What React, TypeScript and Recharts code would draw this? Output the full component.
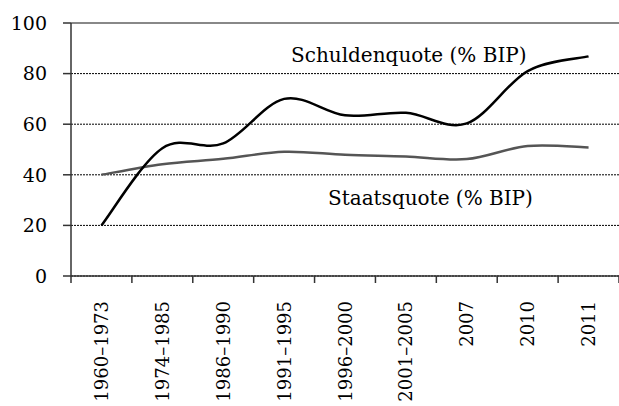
import React from 'react';
import { LineChart, Line, XAxis, YAxis, CartesianGrid, ReferenceLine } from 'recharts';

const categories = ['1960–1973', '1974–1985', '1986–1990', '1991–1995', '1996–2000', '2001–2005', '2007', '2010', '2011'];
const schuldenquote = [20, 50.5, 52.4, 70, 63.5, 64.5, 60.3, 81, 86.8];
const staatsquote = [40, 44.2, 46.3, 49.1, 47.9, 47.2, 46.2, 51.4, 50.8];
const yTicks = [0, 20, 40, 60, 80, 100];

const data = categories.map((c, i) => ({
  x: i + 0.5,
  name: c,
  schulden: schuldenquote[i],
  staats: staatsquote[i],
}));

const xTicks: number[] = [];
for (let i = 0; i <= categories.length; i++) {
  xTicks.push(i);
  if (i < categories.length) xTicks.push(i + 0.5);
}

// Excel-like smoothing (Catmull-Rom converted to Bezier)
function excelSmooth(context: any) {
  let pts: number[][] = [];
  return {
    areaStart() {},
    areaEnd() {},
    lineStart() {
      pts = [];
    },
    lineEnd() {
      if (!pts.length) return;
      context.moveTo(pts[0][0], pts[0][1]);
      for (let i = 0; i < pts.length - 1; i++) {
        const p0 = pts[i - 1] || pts[i];
        const p1 = pts[i];
        const p2 = pts[i + 1];
        const p3 = pts[i + 2] || p2;
        context.bezierCurveTo(
          p1[0] + (p2[0] - p0[0]) / 6,
          p1[1] + (p2[1] - p0[1]) / 6,
          p2[0] - (p3[0] - p1[0]) / 6,
          p2[1] - (p3[1] - p1[1]) / 6,
          p2[0],
          p2[1]
        );
      }
    },
    point(x: number, y: number) {
      pts.push([+x, +y]);
    },
  };
}

const FONT = '"DejaVu Serif", serif';

const XTick = (props: any) => {
  const { x, y, payload } = props;
  const v = payload.value as number;
  if (Number.isInteger(v)) {
    return <line x1={x} y1={y} x2={x} y2={y + 7} stroke="#333" strokeWidth={1.5} />;
  }
  const label = categories[Math.floor(v)];
  return (
    <text
      x={x}
      y={y + 25}
      transform={`rotate(-90 ${x} ${y + 25})`}
      textAnchor="end"
      dominantBaseline="central"
      fontFamily={FONT}
      fontSize={18}
      fill="#000"
    >
      {label}
    </text>
  );
};

export default function App() {
  return (
    <div style={{ position: 'absolute', left: 0, top: 0, width: 619, height: 406, background: '#fff', overflow: 'hidden' }}>
      <LineChart width={619} height={406} data={data} margin={{ top: 23, right: 0, left: 0, bottom: 0 }}>
        <CartesianGrid vertical={false} stroke="#000" strokeDasharray="2 1" strokeWidth={1} />
        <ReferenceLine y={100} stroke="#888" strokeWidth={2} />
        <XAxis
          dataKey="x"
          type="number"
          domain={[0, categories.length]}
          ticks={xTicks}
          interval={0}
          height={130}
          tickLine={false}
          tickSize={0}
          tickMargin={0}
          stroke="#333"
          strokeWidth={1.5}
          tick={<XTick />}
        />
        <YAxis
          type="number"
          domain={[0, 100]}
          ticks={yTicks}
          width={71}
          tickSize={8}
          tickMargin={16}
          stroke="#333"
          strokeWidth={1.5}
          tick={{ fontFamily: FONT, fontSize: 19, fill: '#000' }}
        />
        <Line dataKey="staats" type={excelSmooth as any} stroke="#555" strokeWidth={2.5} dot={false} isAnimationActive={false} />
        <Line dataKey="schulden" type={excelSmooth as any} stroke="#000" strokeWidth={2.5} dot={false} isAnimationActive={false} />
        <text x={291} y={55} dominantBaseline="central" fontFamily={FONT} fontSize={20} fill="#000">
          Schuldenquote (% BIP)
        </text>
        <text x={328} y={198} dominantBaseline="central" fontFamily={FONT} fontSize={20} fill="#000">
          Staatsquote (% BIP)
        </text>
      </LineChart>
    </div>
  );
}
